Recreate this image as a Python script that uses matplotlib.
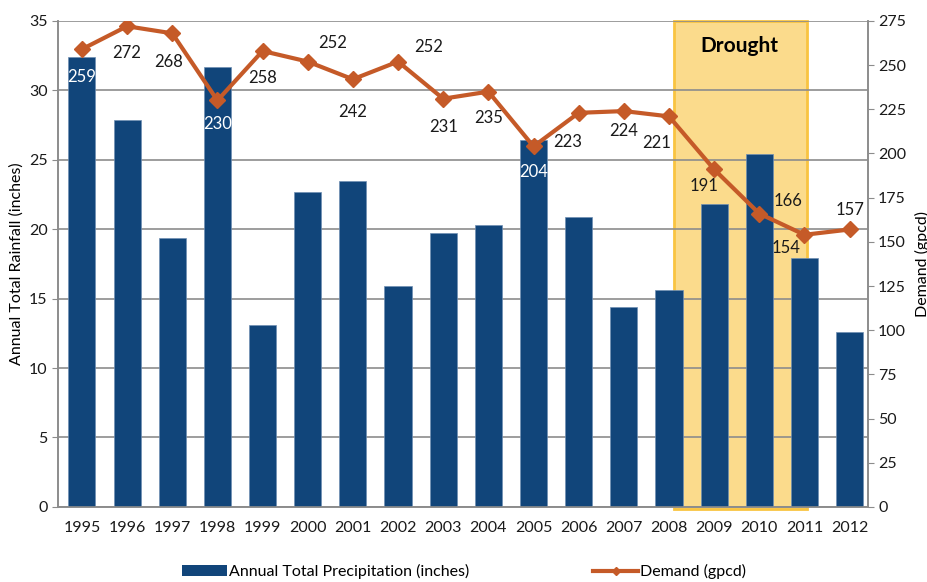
import matplotlib.pyplot as plt
from matplotlib.patches import Rectangle, Patch
from matplotlib.lines import Line2D

plt.rcParams['font.family'] = ['Lato', 'DejaVu Sans']

years = ['1995', '1996', '1997', '1998', '1999', '2000', '2001', '2002', '2003',
         '2004', '2005', '2006', '2007', '2008', '2009', '2010', '2011', '2012']
rainfall = [32.4, 27.9, 19.4, 31.7, 13.1, 22.7, 23.5, 15.9, 19.7,
            20.3, 26.4, 20.9, 14.4, 15.6, 21.8, 25.4, 17.9, 12.6]
demand = [259, 272, 268, 230, 258, 252, 242, 252, 231,
          235, 204, 223, 224, 221, 191, 166, 154, 157]

# label offsets (pixels) for each demand value
offsets = [(0, -28), (0, -27), (-4, -29), (0, -24), (0, -27), (25, 19), (0, -33), (31, 15), (0, -28),
           (0, -26), (0, -26), (-11, -29), (0, -20), (-12, -27), (-10, -17), (29, 13), (-18, -13), (0, 19)]
white_labels = [0, 3, 10]

bar_color = '#11457a'
line_color = '#c55a28'
grid_color = '#8c8c8c'

fig = plt.figure(figsize=(9.28, 5.82), dpi=100)
ax = fig.add_axes([0.0625, 0.129, 0.8725, 0.835])
ax2 = ax.twinx()

x = list(range(len(years)))

# drought box
ax.add_patch(Rectangle((13.1, -0.15), 2.95, 35.15, facecolor='#fbdb8c', edgecolor='#f9c441',
                       linewidth=2, zorder=1, clip_on=False))
ax.text(14.55, 33.2, 'Drought', ha='center', va='center', fontsize=15, fontweight='bold', zorder=4)

ax.bar(x, rainfall, width=0.6, color=bar_color, edgecolor='#6f8fb3', linewidth=0.5, zorder=3)
ax2.plot(x, demand, color=line_color, linewidth=3, marker='D', markersize=8, zorder=5)

for i, v in enumerate(demand):
    col = 'white' if i in white_labels else '#1a1a1a'
    ax2.annotate(str(v), (i, v), xytext=offsets[i], textcoords='offset pixels',
                 ha='center', va='center', fontsize=12, color=col, zorder=6)

ax.set_xlim(-0.53, 17.4)
ax.set_ylim(0, 35)
ax2.set_ylim(0, 275)
ax.set_yticks(range(0, 36, 5))
ax2.set_yticks(range(0, 276, 25))
ax.set_xticks(x)
ax.set_xticklabels(years)

ax.yaxis.grid(True, color=grid_color, linewidth=1.2, zorder=2)
ax.set_axisbelow(False)
ax.grid(False, axis='x')

for a in (ax, ax2):
    for s in a.spines.values():
        s.set_color(grid_color)
        s.set_linewidth(1.2)
    a.spines['top'].set_visible(False)
    a.tick_params(colors='#1a1a1a', labelsize=11.5, length=4, color=grid_color)
ax.tick_params(axis='x', length=0, pad=10)

ax.set_ylabel('Annual Total Rainfall (inches)', fontsize=11.5, labelpad=4)
ax2.set_ylabel('Demand (gpcd)', fontsize=11.5, labelpad=6)

handles = [Patch(facecolor=bar_color), Line2D([], [], color=line_color, linewidth=3, marker='D', markersize=4)]
labels = ['Annual Total Precipitation (inches)', 'Demand (gpcd)']
fig.legend(handles, labels, loc='lower center', bbox_to_anchor=(0.5, -0.02), ncol=2,
           frameon=False, fontsize=11.5, handlelength=2.8, handletextpad=0.1, columnspacing=7.8)

fig.savefig('out.png', dpi=100)
